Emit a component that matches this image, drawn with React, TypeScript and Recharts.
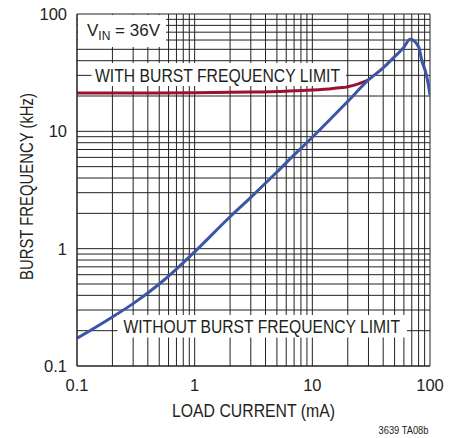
import { LineChart, Line, XAxis, YAxis, ReferenceLine } from 'recharts'

// load current (mA) -> burst frequency (kHz)
const blueCurrent = [0.1, 0.2, 0.3, 0.5, 0.7, 1, 2, 3, 5, 7, 10, 20, 30, 40, 50, 59, 68, 80, 85, 94, 100]
const blueFreq = [0.172, 0.262, 0.34, 0.5, 0.67, 0.94, 1.87, 2.74, 4.5, 6.3, 8.9, 18, 27.4, 34.8, 43.3, 51, 60.8, 52.6, 40.5, 29.2, 20.4]

const redCurrent = [0.1, 0.3, 1, 3, 6, 10, 15, 20, 25, 30]
const redFreq = [21.2, 21.2, 21.3, 21.6, 22, 22.5, 23.2, 24.0, 25.5, 27.4]

const axisTicks = [0.1, 1, 10, 100]
const gridValues = [
    0.1, 0.2, 0.3, 0.4, 0.5, 0.6, 0.7, 0.8, 0.9,
    1, 2, 3, 4, 5, 6, 7, 8, 9,
    10, 20, 30, 40, 50, 60, 70, 80, 90, 100,
]

const blueData = blueCurrent.map((x, i) => ({ x, y: blueFreq[i] }))
const redData = redCurrent.map((x, i) => ({ x, y: redFreq[i] }))

const font = "'Liberation Sans', Arial, sans-serif"
const ink = '#231f20'
const gridColor = '#222'

export default function App() {
    return (
        <div style={{ position: 'absolute', left: 0, top: 0, width: 458, height: 438, background: '#fff' }}>
            <LineChart width={458} height={438} margin={{ top: 14, right: 28, left: 0, bottom: 0 }}>
                <XAxis
                    dataKey="x"
                    type="number"
                    scale="log"
                    domain={[0.1, 100]}
                    ticks={axisTicks}
                    allowDataOverflow
                    height={72}
                    tickSize={0}
                    tickMargin={13}
                    tickFormatter={(v) => String(v)}
                    axisLine={{ stroke: '#222' }}
                    tick={{ fill: ink, fontSize: 16.5, fontFamily: font }}
                />
                <YAxis
                    type="number"
                    scale="log"
                    domain={[0.1, 100]}
                    ticks={axisTicks}
                    allowDataOverflow
                    width={77}
                    tickSize={0}
                    tickMargin={10}
                    tickFormatter={(v) => String(v)}
                    axisLine={{ stroke: '#222' }}
                    tick={{ fill: ink, fontSize: 16.5, fontFamily: font }}
                />
                {gridValues.map((v) => (
                    <ReferenceLine key={'v' + v} x={v} stroke={gridColor} strokeWidth={1} />
                ))}
                {gridValues.map((v) => (
                    <ReferenceLine key={'h' + v} y={v} stroke={gridColor} strokeWidth={1} />
                ))}
                <Line
                    data={redData}
                    dataKey="y"
                    type="monotone"
                    stroke="#9e1030"
                    strokeWidth={3}
                    dot={false}
                    isAnimationActive={false}
                />
                <Line
                    data={blueData}
                    dataKey="y"
                    type="monotone"
                    stroke="#3c55a5"
                    strokeWidth={3}
                    dot={false}
                    isAnimationActive={false}
                />
            </LineChart>
            <svg
                width={458}
                height={438}
                style={{ position: 'absolute', left: 0, top: 0, pointerEvents: 'none' }}
                fontFamily={font}
                fill={ink}
            >
                <rect x={78} y={15} width={88} height={32} fill="#fff" />
                <text x={87} y={36} fontSize={17}>
                    <tspan>V</tspan>
                    <tspan dy={4} fontSize={12}>IN</tspan>
                    <tspan dy={-4}> = 36V</tspan>
                </text>

                <rect x={91.5} y={63} width={254.5} height={23} fill="#fff" />
                <text x={95} y={81.5} fontSize={18} textLength={245} lengthAdjust="spacingAndGlyphs">
                    WITH BURST FREQUENCY LIMIT
                </text>

                <rect x={117.5} y={315} width={289.5} height={22.5} fill="#fff" />
                <text x={123.5} y={332.5} fontSize={18} textLength={276.5} lengthAdjust="spacingAndGlyphs">
                    WITHOUT BURST FREQUENCY LIMIT
                </text>

                <text x={172} y={416.5} fontSize={18} textLength={163} lengthAdjust="spacingAndGlyphs">
                    LOAD CURRENT (mA)
                </text>
                <text
                    x={0}
                    y={0}
                    fontSize={18}
                    textLength={187}
                    lengthAdjust="spacingAndGlyphs"
                    transform="translate(33 280) rotate(-90)"
                >
                    BURST FREQUENCY (kHz)
                </text>
                <text x={378.5} y={434} fontSize={10.5} textLength={50} lengthAdjust="spacingAndGlyphs">
                    3639 TA08b
                </text>
            </svg>
        </div>
    )
}
